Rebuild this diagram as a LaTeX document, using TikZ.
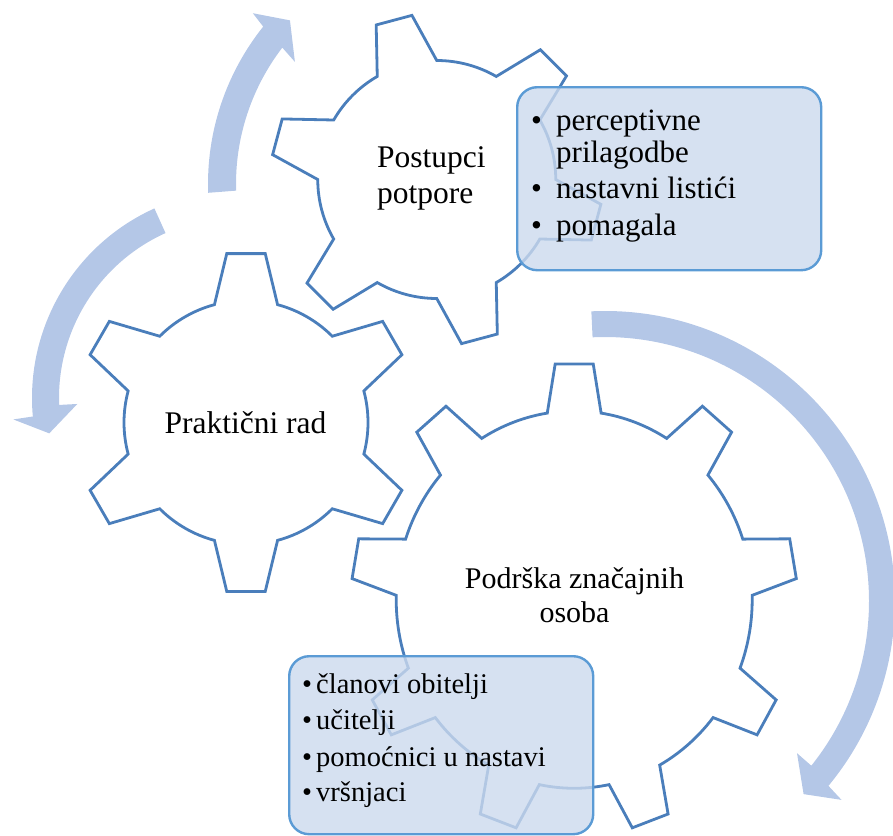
\documentclass[tikz,border=0pt]{standalone}
\usepackage{fontspec}
\setmainfont{Liberation Serif}
\definecolor{gearblue}{HTML}{4A7EBB}
\definecolor{arrowblue}{HTML}{B4C7E7}
\definecolor{boxline}{HTML}{5B9BD5}
\definecolor{boxfill}{RGB}{204,218,238}
\begin{document}
\begin{tikzpicture}[x=1pt,y=1pt,
  gearline/.style={draw=gearblue, line width=2.8pt, line join=miter},
  cyclearrow/.style={fill=arrowblue, draw=none},
  infobox/.style={draw=boxline, line width=2.4pt, fill=boxfill, fill opacity=0.8,
     draw opacity=1, rounded corners=20pt, inner sep=0pt, anchor=north west},
  lbl/.style={inner sep=0pt, font=\fontsize{31.5}{36}\selectfont},
  lblC/.style={inner sep=0pt, font=\fontsize{30}{34}\selectfont},
  itemA/.style={inner sep=0pt, anchor=base west, font=\fontsize{31}{34}\selectfont},
  itemB/.style={inner sep=0pt, anchor=base west, font=\fontsize{28.5}{32}\selectfont}
]
\useasboundingbox (0,0) rectangle (893,-835);

% ---------- circular arrows ----------
\coordinate (cA) at (605,-601);
\coordinate (cB) at (240,-398);
\coordinate (cC) at (460,-184);
\begin{scope}[shift={(cA)}]
  \fill[cyclearrow] (92.7:290) arc[start angle=92.7, end angle=-39.6, radius=290]
    -- (-40.06:309) -- (-44.2:277) -- (-38.4:245) -- (-38.6:264)
    arc[start angle=-38.6, end angle=92.7, radius=264] -- cycle;
\end{scope}
\begin{scope}[shift={(cB)}]
  \fill[cyclearrow] (114.3:208) arc[start angle=114.3, end angle=185.1, radius=208]
    -- (185.4:227.7) -- (190.5:194) -- (182.1:162.8) -- (182.2:181)
    arc[start angle=182.2, end angle=114.3, radius=181] -- cycle;
\end{scope}
\begin{scope}[shift={(cC)}]
  \fill[cyclearrow] (182:252) arc[start angle=182, end angle=141.35, radius=252]
    -- (140.5:268.5) -- (136.1:236) -- (143.5:205.4) -- (142.5:224)
    arc[start angle=142.5, end angle=181.7, radius=224] -- cycle;
\end{scope}

% ---------- gears ----------
% gear 2: Prakticni rad
\begin{scope}[shift={(246,-422.5)}]
  \draw[gearline] (75:122) \foreach \a in {90,150,...,390} {
     -- (\a-6.5:170) -- (\a+6.5:170) -- (\a+15:122)
     arc[start angle=\a+15, end angle=\a+45, radius=122] } -- cycle;
\end{scope}
% gear 1: Postupci potpore
\begin{scope}[shift={(436.75,-179.5)}]
  \draw[gearline] (30:119) \foreach \a in {45,105,...,345} {
     -- (\a-6.4:166) -- (\a+6.4:166) -- (\a+15:119)
     arc[start angle=\a+15, end angle=\a+45, radius=119] } -- cycle;
\end{scope}
% gear 3: Podrska znacajnih osoba
\begin{scope}[shift={(574.2,-599.6)}, yscale=1.06]
  \draw[gearline] (81.3:178) \foreach \a in {90,130,...,410} {
     -- (\a-4.9:223) -- (\a+4.9:223) -- (\a+8.7:178)
     arc[start angle=\a+8.7, end angle=\a+31.3, radius=178] } -- cycle;
\end{scope}

% ---------- gear labels ----------
\node[lbl, anchor=base west] (t1a) at (377,-167) {Postupci};
\node[lbl, anchor=base west] (t1b) at (377,-203) {potpore};
\node[lbl, anchor=base] (t2) at (245.5,-433) {Praktični rad};
\node[lblC, anchor=base] (t3a) at (574.5,-588) {Podrška značajnih};
\node[lblC, anchor=base] (t3b) at (574.5,-622) {osoba};

% ---------- info boxes ----------
\node[infobox, minimum width=304pt, minimum height=183pt] (box1) at (516,-86) {};
\node[infobox, minimum width=304pt, minimum height=178pt] (box2) at (288,-655) {};

\node[itemA] (b1a) at (531,-130) {•};
\node[itemA] (i1a) at (556,-130) {perceptivne};
\node[itemA] (i1b) at (556,-162) {prilagodbe};
\node[itemA] (b1c) at (531,-198) {•};
\node[itemA] (i1c) at (556,-198) {nastavni listići};
\node[itemA] (b1d) at (531,-235) {•};
\node[itemA] (i1d) at (556,-235) {pomagala};

\node[itemB] (b2a) at (302,-693) {•};
\node[itemB] (i2a) at (316,-693) {članovi obitelji};
\node[itemB] (b2b) at (302,-729) {•};
\node[itemB] (i2b) at (316,-729) {učitelji};
\node[itemB] (b2c) at (302,-766) {•};
\node[itemB] (i2c) at (316,-766) {pomoćnici u nastavi};
\node[itemB] (b2d) at (302,-801) {•};
\node[itemB] (i2d) at (316,-801) {vršnjaci};
\end{tikzpicture}
\end{document}
